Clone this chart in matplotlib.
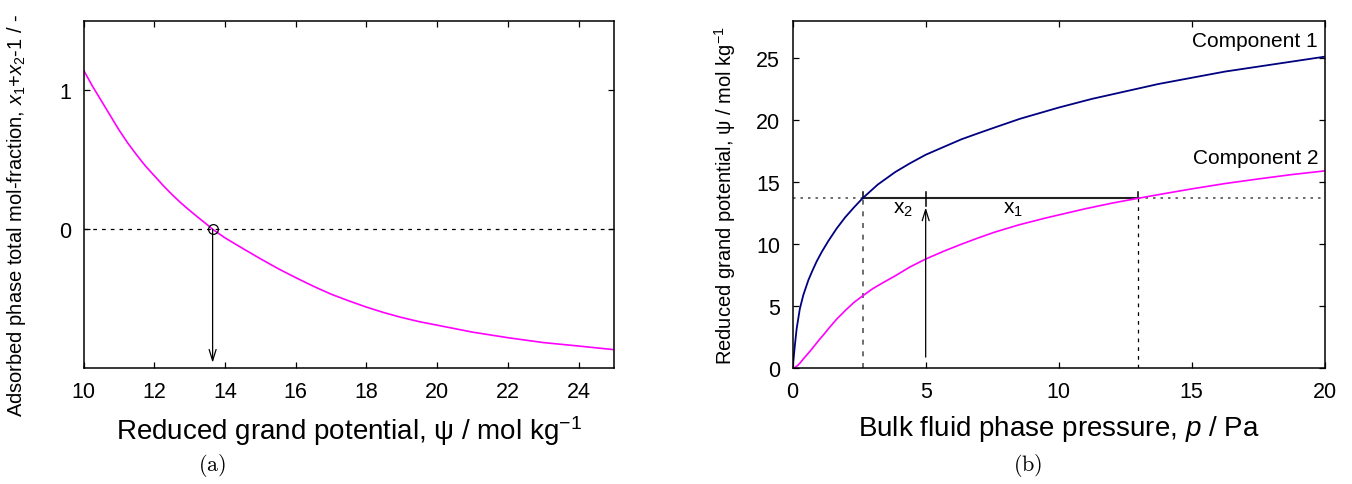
import numpy as np
import matplotlib
matplotlib.use("Agg")
import matplotlib.pyplot as plt

plt.rcParams['font.family'] = ['Liberation Sans', 'DejaVu Sans']
plt.rcParams['mathtext.fontset'] = 'custom'
plt.rcParams['mathtext.rm'] = 'Liberation Sans'
plt.rcParams['mathtext.it'] = 'Liberation Sans:italic'

# (a) x1 + x2 - 1 as a function of reduced grand potential
psi_a = [10.0, 10.25, 10.5, 10.75, 11.0, 11.25, 11.5, 11.75, 12.0, 12.25, 12.5,
         12.75, 13.0, 13.25, 13.5, 13.65, 14.0, 14.5, 15.0, 15.5, 16.0, 16.5,
         17.0, 17.5, 18.0, 18.5, 19.0, 19.5, 20.0, 21.0, 22.0, 23.0, 24.0, 25.0]
f_a = [1.144, 1.03, 0.925, 0.82, 0.715, 0.62, 0.535, 0.455, 0.385, 0.315, 0.25,
       0.19, 0.135, 0.083, 0.032, 0.0, -0.062, -0.138, -0.212, -0.283, -0.348, -0.41,
       -0.467, -0.515, -0.56, -0.6, -0.635, -0.665, -0.69, -0.74, -0.78, -0.815, -0.84, -0.866]
psi_root = 13.65

# (b) reduced grand potential vs bulk pressure
p_c1 = [0.0, 0.04, 0.08, 0.15, 0.27, 0.4, 0.59, 0.75, 0.9, 1.1, 1.34, 1.65, 1.97,
        2.3, 2.63, 3.2, 3.85, 4.4, 5.0, 5.7, 6.35, 7.0, 7.6, 8.55, 10.0, 11.25,
        12.5, 13.75, 15.0, 16.25, 17.5, 18.75, 20.0]
psi_c1 = [0.0, 0.9, 1.8, 3.2, 4.8, 5.9, 7.1, 7.9, 8.6, 9.4, 10.25, 11.25, 12.15,
          12.95, 13.7, 14.8, 15.8, 16.5, 17.2, 17.85, 18.45, 18.95, 19.4, 20.1, 21.0, 21.7,
          22.3, 22.9, 23.4, 23.9, 24.3, 24.7, 25.1]
p_c2 = [0.0, 0.1, 0.2, 0.3, 0.4, 0.55, 0.7, 0.85, 1.0, 1.2, 1.35, 1.65, 2.0, 2.3,
        2.63, 3.0, 3.4, 3.85, 4.4, 5.0, 5.7, 6.35, 7.0, 7.6, 8.5, 9.5, 11.0, 12.0,
        13.0, 14.0, 15.0, 16.25, 17.5, 18.75, 20.0]
psi_c2 = [0.0, 0.08, 0.25, 0.48, 0.75, 1.12, 1.5, 1.9, 2.3, 2.8, 3.2, 3.95, 4.7, 5.3,
          5.83, 6.4, 6.9, 7.44, 8.15, 8.8, 9.45, 10.0, 10.52, 10.97, 11.55, 12.1, 12.85, 13.3,
          13.7, 14.08, 14.45, 14.88, 15.25, 15.6, 15.9]
psi_mix = 13.7
p_mix = 5.0
p1_0 = 2.63
p2_0 = 13.0

fig = plt.figure(figsize=(13.52, 4.85), dpi=100)
ax1 = fig.add_axes([0.0618, 0.2386, 0.3923, 0.7167])
ax2 = fig.add_axes([0.5863, 0.2386, 0.3935, 0.7167])

for ax in (ax1, ax2):
    ax.tick_params(direction='in', top=True, right=True, length=4.5, width=0.9,
                   labelsize=15.5, pad=9)
    for s in ax.spines.values():
        s.set_linewidth(1.1)

# ---- panel (a)
ax1.axhline(0, color='k', lw=0.9, ls=(0, (3, 4)))
ax1.plot(psi_a, f_a, color='#ff00ff', lw=1.2)
ax1.plot([psi_root], [0], 'o', mfc='none', mec='k', ms=7, mew=0.9)
ax1.annotate('', xy=(psi_root, -0.96), xytext=(psi_root, 0),
             arrowprops=dict(arrowstyle='->,head_length=0.8,head_width=0.25',
                             color='k', lw=0.9, shrinkA=0, shrinkB=0))
ax1.set_xlim(10, 25)
ax1.set_ylim(-1, 1.5)
ax1.set_xticks(np.arange(10, 25, 2))
ax1.set_yticks([0, 1])
ax1.set_xlabel('Reduced grand potential, ψ / mol kg$^{-1}$', fontsize=20, labelpad=8)
ax1.set_ylabel('Adsorbed phase total mol-fraction, $\\mathit{x}_1$+$\\mathit{x}_2$-1 / -',
               fontsize=14.5)
ax1.yaxis.set_label_coords(-0.105, 0.444)

# ---- panel (b)
ax2.plot([0, 20], [psi_mix, psi_mix], color='#555555', lw=1.2, ls=(0, (1.5, 3)))
ax2.plot([p1_0, p1_0], [0, psi_mix], color='#555555', lw=1.2, ls=(0, (3, 4)))
ax2.plot([p2_0, p2_0], [0, psi_mix], color='k', lw=0.9, ls=(0, (3, 4)))
ax2.plot([p1_0, p2_0], [psi_mix, psi_mix], color='#222222', lw=1.5)
for pb in (p1_0, p_mix, p2_0):
    ax2.plot([pb, pb], [psi_mix, psi_mix + 0.5], color='k', lw=1.1)
ax2.plot([p_mix, p_mix], [psi_mix - 0.6, psi_mix], color='k', lw=1.1)
ax2.plot(p_c1, psi_c1, color='#000080', lw=1.3)
ax2.plot(p_c2, psi_c2, color='#ff00ff', lw=1.2)
ax2.annotate('', xy=(p_mix, psi_mix - 0.75), xytext=(p_mix, 0.9),
             arrowprops=dict(arrowstyle='->,head_length=0.8,head_width=0.25',
                             color='k', lw=0.9, shrinkA=0, shrinkB=0))
ax2.text(4.15, 12.9, 'x$_2$', fontsize=15, ha='center', va='center')
ax2.text(8.3, 12.9, 'x$_1$', fontsize=15, ha='center', va='center')
ax2.text(19.75, 26.4, 'Component 1', fontsize=15, ha='right', va='center')
ax2.text(19.75, 17.0, 'Component 2', fontsize=15, ha='right', va='center')
ax2.set_xlim(0, 20)
ax2.set_ylim(0, 28)
ax2.set_xticks(np.arange(0, 21, 5))
ax2.set_yticks(np.arange(0, 26, 5))
ax2.set_xlabel('Bulk fluid phase pressure, $\\mathit{p}$ / Pa', fontsize=20, labelpad=8)
ax2.set_ylabel('Reduced grand potential, ψ / mol kg$^{-1}$', fontsize=14.5)
ax2.yaxis.set_label_coords(-0.102, 0.499)

fig.text(0.1568, 0.028, r'$\mathrm{(a)}$', fontsize=16, ha='center', math_fontfamily='cm')
fig.text(0.7604, 0.028, r'$\mathrm{(b)}$', fontsize=16, ha='center', math_fontfamily='cm')

fig.savefig('out.png', dpi=100)
